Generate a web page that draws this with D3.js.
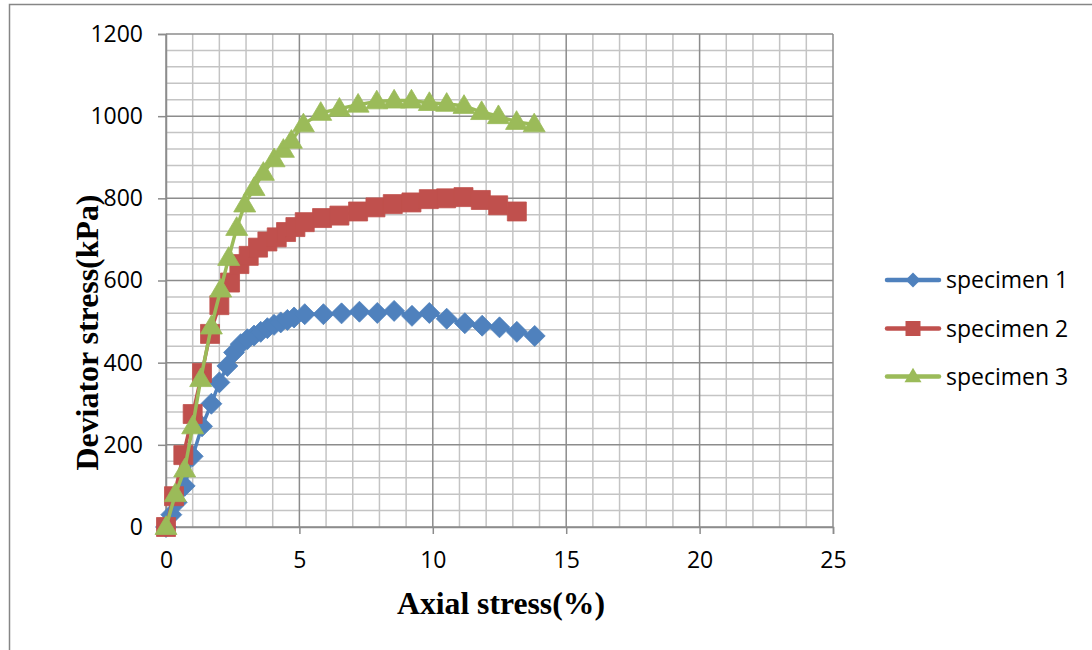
<!DOCTYPE html>
<html>
<head>
<meta charset="utf-8">
<script src="https://cdn.jsdelivr.net/npm/d3@7"></script>
<style>
  html, body { margin: 0; padding: 0; background: #fff; }
  svg { display: block; }
</style>
</head>
<body>
<div id="chart"></div>
<script>
// Triaxial test: deviator stress vs. axial strain for three specimens
const seriesNames = ["specimen 1", "specimen 2", "specimen 3"];
const seriesColors = ["#4F81BD", "#C0504D", "#9BBB59"];
const seriesSymbols = ["diamond", "square", "triangle"];

// [axial stress (%), deviator stress (kPa)]
const specimen1 = [
  [0, 0], [0.2, 30], [0.4, 60], [0.7, 100], [1.0, 172], [1.35, 245], [1.7, 300],
  [2.0, 352], [2.3, 392], [2.55, 425], [2.8, 445], [3.05, 457], [3.3, 466],
  [3.55, 475], [3.8, 484], [4.05, 492], [4.3, 498], [4.55, 504], [4.8, 510],
  [5.2, 518], [5.9, 518], [6.58, 520], [7.25, 524], [7.92, 521], [8.55, 526],
  [9.22, 514], [9.87, 521], [10.52, 507], [11.2, 496], [11.85, 490], [12.5, 486],
  [13.15, 475], [13.82, 465]
];
const specimen2 = [
  [0, 0], [0.3, 75], [0.65, 175], [1.0, 275], [1.35, 375], [1.65, 470], [2.0, 540],
  [2.4, 595], [2.75, 640], [3.1, 660], [3.45, 680], [3.8, 695], [4.15, 705],
  [4.5, 718], [4.85, 730], [5.2, 742], [5.85, 752], [6.5, 758], [7.2, 768],
  [7.85, 778], [8.5, 786], [9.2, 790], [9.85, 798], [10.5, 800], [11.15, 803],
  [11.8, 796], [12.45, 783], [13.15, 768]
];
const specimen3 = [
  [0, 0], [0.35, 80], [0.7, 140], [1.0, 245], [1.3, 360], [1.7, 488], [2.05, 578],
  [2.35, 655], [2.65, 728], [2.95, 785], [3.3, 825], [3.65, 862], [4.05, 895],
  [4.4, 918], [4.7, 940], [5.15, 980], [5.8, 1008], [6.5, 1018], [7.2, 1028],
  [7.9, 1036], [8.55, 1038], [9.2, 1038], [9.87, 1032], [10.52, 1030],
  [11.17, 1025], [11.83, 1010], [12.46, 1000], [13.14, 986], [13.8, 980]
];
const seriesData = [specimen1, specimen2, specimen3];

const xTicks = [0, 5, 10, 15, 20, 25];
const yTicks = [0, 200, 400, 600, 800, 1000, 1200];
const xMinor = d3.range(0, 26, 1);
const yMinor = d3.range(0, 1201, 40);

const xTitle = "Axial stress(%)";
const yTitle = "Deviator stress(kPa)";

const W = 1092, H = 650;
const plot = { left: 166, right: 833, top: 34, bottom: 527 };

const svg = d3.select("#chart").append("svg")
  .attr("width", W).attr("height", H);

// outer chart frame
svg.append("rect")
  .attr("x", 9.5).attr("y", 4.5)
  .attr("width", W + 20).attr("height", H + 20)
  .attr("fill", "#fff")
  .attr("stroke", "#868686").attr("stroke-width", 1.5);

const x = d3.scaleLinear().domain([0, 25]).range([plot.left, plot.right]);
const y = d3.scaleLinear().domain([0, 1200]).range([plot.bottom, plot.top]);

// minor gridlines
const grid = svg.append("g");
grid.selectAll("line.xm").data(xMinor.filter(v => v % 5 !== 0)).join("line")
  .attr("x1", d => x(d)).attr("x2", d => x(d))
  .attr("y1", plot.top).attr("y2", plot.bottom)
  .attr("stroke", "#c4c4c4").attr("stroke-width", 1.5);
grid.selectAll("line.ym").data(yMinor.filter(v => v % 200 !== 0)).join("line")
  .attr("y1", d => y(d)).attr("y2", d => y(d))
  .attr("x1", plot.left).attr("x2", plot.right)
  .attr("stroke", "#c4c4c4").attr("stroke-width", 1.5);

// major gridlines
grid.selectAll("line.xM").data(xTicks).join("line")
  .attr("x1", d => x(d)).attr("x2", d => x(d))
  .attr("y1", plot.top).attr("y2", plot.bottom)
  .attr("stroke", "#8c8c8c").attr("stroke-width", 1.5);
grid.selectAll("line.yM").data(yTicks).join("line")
  .attr("y1", d => y(d)).attr("y2", d => y(d))
  .attr("x1", plot.left).attr("x2", plot.right)
  .attr("stroke", "#8c8c8c").attr("stroke-width", 1.5);

// axes
const font = "'Open Sans', 'Noto Sans', sans-serif";
const xAxis = d3.axisBottom(x).tickValues(xTicks).tickSize(7).tickPadding(18)
  .tickFormat(d3.format("d"));
const yAxis = d3.axisLeft(y).tickValues(yTicks).tickSize(8).tickPadding(15)
  .tickFormat(d3.format("d"));

const gx = svg.append("g").attr("transform", `translate(0,${plot.bottom})`).call(xAxis);
const gy = svg.append("g").attr("transform", `translate(${plot.left},0)`).call(yAxis);
[gx, gy].forEach(g => {
  g.select(".domain").attr("stroke", "#8c8c8c").attr("stroke-width", 1.5);
  g.selectAll(".tick line").attr("stroke", "#8c8c8c").attr("stroke-width", 1.5);
  g.selectAll(".tick text")
    .attr("fill", "#000")
    .style("font-family", font)
    .style("font-size", "23px");
});
gx.selectAll(".tick text").attr("dy", "0.71em");

// axis titles
svg.append("text")
  .attr("x", 501).attr("y", 614)
  .attr("text-anchor", "middle")
  .attr("textLength", 208).attr("lengthAdjust", "spacingAndGlyphs")
  .style("font-family", "'Liberation Serif', 'Times New Roman', serif")
  .style("font-weight", "bold").style("font-size", "31px")
  .text(xTitle);

svg.append("text")
  .attr("transform", `translate(98,${(195 + 470) / 2}) rotate(-90)`)
  .attr("text-anchor", "middle")
  .attr("textLength", 276).attr("lengthAdjust", "spacingAndGlyphs")
  .style("font-family", "'Liberation Serif', 'Times New Roman', serif")
  .style("font-weight", "bold").style("font-size", "31px")
  .text(yTitle);

// marker shapes
function markerPath(kind, s) {
  const h = s / 2;
  if (kind === "diamond") return `M0,${-h}L${h},0L0,${h}L${-h},0Z`;
  if (kind === "square") return `M${-h},${-h}H${h}V${h}H${-h}Z`;
  // triangle
  const th = s * 0.85;
  return `M0,${-th * 0.6}L${h},${th * 0.4}L${-h},${th * 0.4}Z`;
}
const markerSize = { diamond: 21, square: 19, triangle: 22 };

const line = d3.line().x(d => x(d[0])).y(d => y(d[1]));

seriesData.forEach((data, i) => {
  const g = svg.append("g");
  g.append("path").datum(data)
    .attr("d", line)
    .attr("fill", "none")
    .attr("stroke", seriesColors[i])
    .attr("stroke-width", 3.5)
    .attr("stroke-linejoin", "round");
  g.selectAll("path.m").data(data).join("path")
    .attr("class", "m")
    .attr("transform", d => `translate(${x(d[0])},${y(d[1])})`)
    .attr("d", markerPath(seriesSymbols[i], markerSize[seriesSymbols[i]]))
    .attr("fill", seriesColors[i])
    .attr("stroke", seriesColors[i])
    .attr("stroke-width", 0.8);
});

// legend
const legendY = [280, 328.5, 376.5];
const legend = svg.append("g");
seriesNames.forEach((name, i) => {
  const g = legend.append("g").attr("transform", `translate(0,${legendY[i]})`);
  g.append("line")
    .attr("x1", 887).attr("x2", 939)
    .attr("stroke", seriesColors[i]).attr("stroke-width", 4.5)
    .attr("stroke-linecap", "round");
  g.append("path")
    .attr("transform", "translate(913,0)")
    .attr("d", markerPath(seriesSymbols[i], seriesSymbols[i] === "triangle" ? 17 : 15))
    .attr("fill", seriesColors[i]);
  g.append("text")
    .attr("x", 946).attr("y", 0).attr("dy", "0.35em")
    .style("font-family", font).style("font-size", "23px")
    .attr("fill", "#000")
    .text(name);
});
</script>
</body>
</html>
